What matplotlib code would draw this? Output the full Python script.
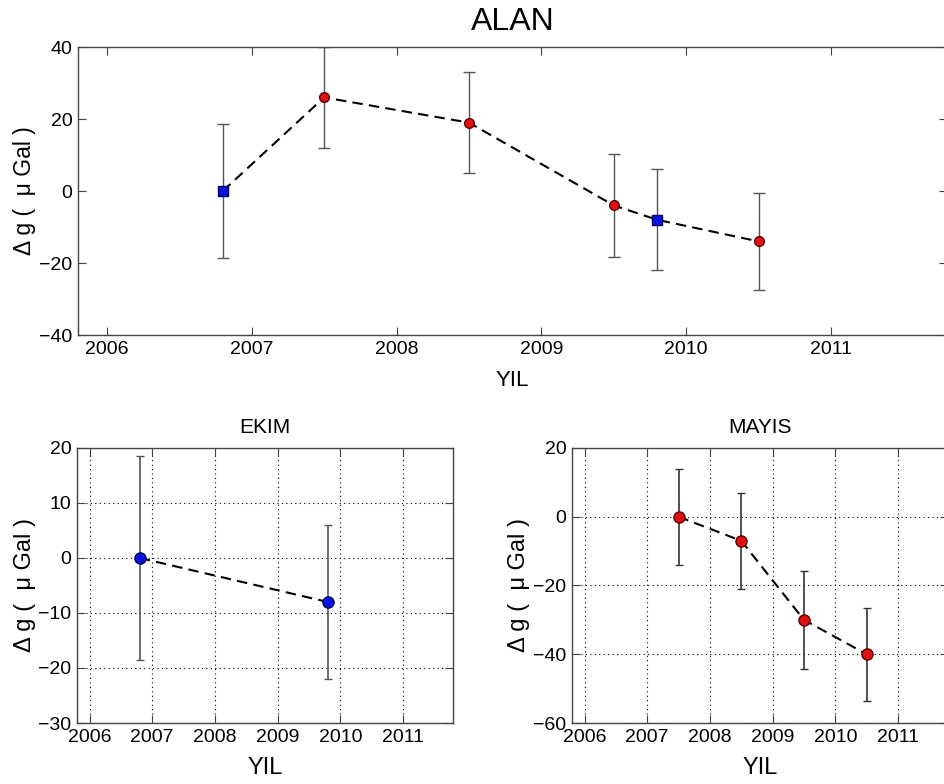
import numpy as np
import matplotlib
matplotlib.use('Agg')
import matplotlib.pyplot as plt

plt.rcParams['font.family'] = ['Liberation Sans', 'DejaVu Sans']

# EKIM (october) campaigns
ekim_yil = [2006.8, 2009.8]
ekim_dg = [0, -8]
ekim_err = [18.5, 14]

# MAYIS (may) campaigns, values in the combined (ALAN) plot
mayis_yil = [2007.5, 2008.5, 2009.5, 2010.5]
mayis_dg_alan = [26, 19, -4, -14]
mayis_err = [14, 14, 14.3, 13.5]

# MAYIS values relative to the first may campaign
mayis_dg = [0, -7, -30, -40]

years = [2006, 2007, 2008, 2009, 2010, 2011]
ylab = 'Δ g (  μ Gal )'
err_col = '#555555'
red = '#e01010'
blue = '#0a14e0'


def matlab_axes(ax, grid):
    ax.set_xlim(2005.8, 2011.8)
    ax.set_xticks(years)
    ax.tick_params(direction='in', top=True, right=True, length=6,
                   labelsize=14, color='#444444', pad=4)
    for s in ax.spines.values():
        s.set_color('#444444')
        s.set_linewidth(1.0)
    if grid:
        ax.grid(True, linestyle=(0, (1, 3)), color='black', linewidth=0.8)
        ax.set_axisbelow(True)


fig = plt.figure(figsize=(9.45, 7.84), dpi=100)

# --- ALAN (combined) ---
ax1 = fig.add_axes([0.0825, 0.5727, 0.9195, 0.3673])
all_x = np.array(ekim_yil + mayis_yil)
all_y = np.array(ekim_dg + mayis_dg_alan)
order = np.argsort(all_x)
ax1.plot(all_x[order], all_y[order], '--', color='black', linewidth=1.5,
         dashes=(5, 3), zorder=2)
ax1.errorbar(ekim_yil, ekim_dg, yerr=ekim_err, fmt='none', ecolor=err_col,
             elinewidth=1, capsize=4, zorder=1)
ax1.errorbar(mayis_yil, mayis_dg_alan, yerr=mayis_err, fmt='none', ecolor=err_col,
             elinewidth=1, capsize=4, zorder=1)
ax1.plot(ekim_yil, ekim_dg, 's', color=blue, markeredgecolor='#000060',
         markersize=7, zorder=3)
ax1.plot(mayis_yil, mayis_dg_alan, 'o', color=red, markeredgecolor='#600000',
         markersize=7, zorder=3)
matlab_axes(ax1, grid=False)
ax1.set_ylim(-40, 40)
ax1.set_yticks([-40, -20, 0, 20, 40])
ax1.set_title('ALAN', fontsize=23, pad=12)
ax1.set_xlabel('YIL', fontsize=16, labelpad=9)
ax1.set_ylabel(ylab, fontsize=16.5, labelpad=2)

# --- EKIM ---
ax2 = fig.add_axes([0.0815, 0.0778, 0.398, 0.3508])
ax2.errorbar(ekim_yil, ekim_dg, yerr=ekim_err, fmt='none', ecolor=err_col,
             elinewidth=1.2, capsize=3, zorder=2)
ax2.plot(ekim_yil, ekim_dg, '--', color='black', linewidth=1.5,
         dashes=(5, 3), zorder=3)
ax2.plot(ekim_yil, ekim_dg, 'o', color=blue, markeredgecolor='#000060',
         markersize=8, zorder=4)
matlab_axes(ax2, grid=True)
ax2.set_ylim(-30, 20)
ax2.set_yticks([-30, -20, -10, 0, 10, 20])
ax2.set_title('EKIM', fontsize=15, pad=11)
ax2.set_xlabel('YIL', fontsize=17, labelpad=8)
ax2.set_ylabel(ylab, fontsize=17, labelpad=2)

# --- MAYIS ---
ax3 = fig.add_axes([0.6053, 0.0778, 0.398, 0.3508])
ax3.errorbar(mayis_yil, mayis_dg, yerr=mayis_err, fmt='none', ecolor='#333333',
             elinewidth=1.2, capsize=3, zorder=2)
ax3.plot(mayis_yil, mayis_dg, '--', color='black', linewidth=1.5,
         dashes=(5, 3), zorder=3)
ax3.plot(mayis_yil, mayis_dg, 'o', color=red, markeredgecolor='#600000',
         markersize=8, zorder=4)
matlab_axes(ax3, grid=True)
ax3.set_ylim(-60, 20)
ax3.set_yticks([-60, -40, -20, 0, 20])
ax3.set_title('MAYIS', fontsize=15, pad=11)
ax3.set_xlabel('YIL', fontsize=17, labelpad=8)
ax3.set_ylabel(ylab, fontsize=17, labelpad=2)

fig.savefig('out.png', dpi=100)
